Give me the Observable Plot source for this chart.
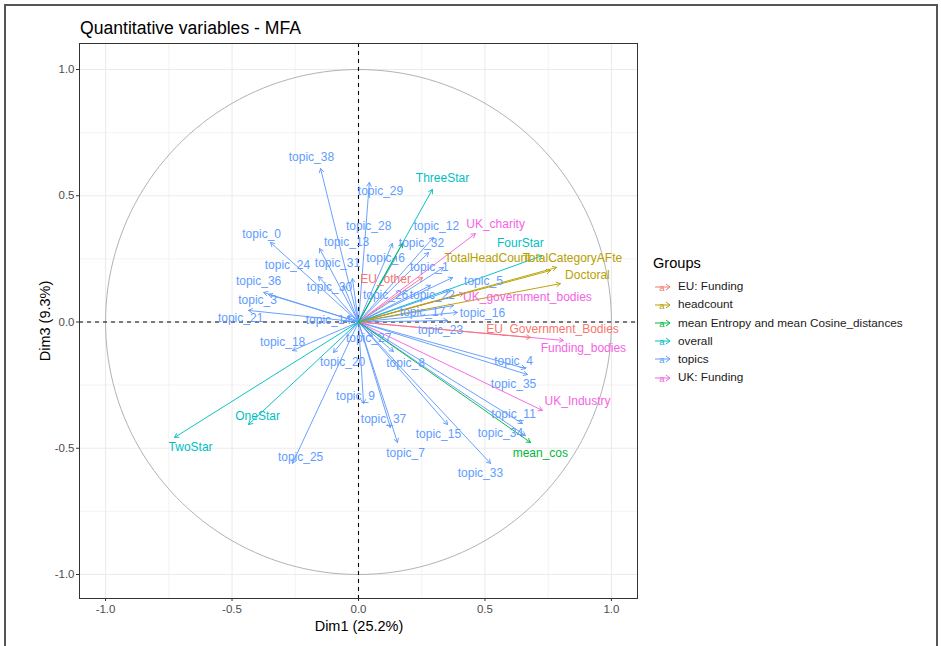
<!DOCTYPE html>
<html>
<head>
<meta charset="utf-8">
<script src="https://cdn.jsdelivr.net/npm/d3@7"></script>
<script src="https://cdn.jsdelivr.net/npm/@observablehq/plot@0.6"></script>
<style>
  html, body { margin: 0; padding: 0; background: #fff; }
  #wrap { position: relative; width: 941px; height: 646px; overflow: hidden; font-family: "Liberation Sans", Arial, sans-serif; }
  #wrap svg { position: absolute; left: 0; top: 0; }
  .abs { position: absolute; white-space: nowrap; line-height: 1; }
  #border { position: absolute; left: 4px; top: 4px; width: 934px; height: 660px; border: 2px solid #555; border-bottom: none; box-sizing: border-box; }
</style>
</head>
<body>
<div id="wrap">
  <div id="border"></div>
  <div id="chart"></div>
  <div class="abs" id="title" style="left:80px; top:20px; font-size:17.6px; color:#000;">Quantitative variables - MFA</div>
  <div class="abs" id="xtitle" style="left:359px; top:619px; font-size:14.5px; color:#000; transform:translateX(-50%);">Dim1 (25.2%)</div>
  <div class="abs" id="ytitle" style="left:45px; top:321px; font-size:14.5px; color:#000; transform:translate(-50%,-50%) rotate(-90deg);">Dim3 (9.3%)</div>
  <div id="legend"></div>
</div>
<script>
// ---- data ----
const groupNames = ["EU: Funding", "headcount", "mean Entropy and mean Cosine_distances", "overall", "topics", "UK: Funding"];
const groupColors = ["#F8766D", "#B79F00", "#00BA38", "#00BFC4", "#619CFF", "#F564E3"];

const variables = [
  "topic_38","topic_29","topic_0","topic_28","topic_12","topic_32","topic_13","topic_6","topic_31","topic_24",
  "topic_30","topic_36","topic_3","topic_21","topic_14","topic_18","topic_20","topic_27","topic_8","topic_9",
  "topic_37","topic_7","topic_25","topic_15","topic_33","topic_34","topic_11","topic_4","topic_35","topic_1",
  "topic_5","topic_26","topic_22","topic_17","topic_16","topic_23",
  "UK_charity","UK_government_bodies","Funding_bodies","UK_Industry",
  "EU_other","EU_Government_Bodies",
  "TotalHeadCount","TotalCategoryAFte","Doctoral",
  "ThreeStar","FourStar","OneStar","TwoStar",
  "mean_ent","mean_cos"
];
const variableGroup = [
  "topics","topics","topics","topics","topics","topics","topics","topics","topics","topics",
  "topics","topics","topics","topics","topics","topics","topics","topics","topics","topics",
  "topics","topics","topics","topics","topics","topics","topics","topics","topics","topics",
  "topics","topics","topics","topics","topics","topics",
  "UK: Funding","UK: Funding","UK: Funding","UK: Funding",
  "EU: Funding","EU: Funding",
  "headcount","headcount","headcount",
  "overall","overall","overall","overall",
  "mean Entropy and mean Cosine_distances","mean Entropy and mean Cosine_distances"
];
const dim1 = [
  -0.150, 0.043, -0.348, 0.134, 0.296, 0.277, -0.154, 0.150, -0.024, -0.158,
  -0.059, -0.375, -0.356, -0.435, -0.043, -0.261, -0.099, 0.055, 0.138, 0.020,
  0.126, 0.154, -0.261, 0.352, 0.522, 0.660, 0.648, 0.660, 0.668, 0.336,
  0.372, 0.285, 0.364, 0.375, 0.391, 0.352,
  0.462, 0.415, 0.810, 0.727,
  0.253, 0.680,
  0.759, 0.783, 0.798,
  0.292, 0.727, -0.435, -0.727,
  0.174, 0.680
];
const dim3 = [
  0.608, 0.553, 0.315, 0.311, 0.335, 0.275, 0.291, 0.259, 0.172, 0.180,
  0.145, 0.117, 0.109, 0.046, 0.022, -0.113, -0.121, -0.057, -0.117, -0.323,
  -0.418, -0.477, -0.560, -0.406, -0.560, -0.450, -0.402, -0.184, -0.208, 0.216,
  0.176, 0.145, 0.125, 0.065, 0.038, 0.006,
  0.350, 0.113, -0.073, -0.350,
  0.176, -0.061,
  0.204, 0.216, 0.152,
  0.525, 0.263, -0.406, -0.457,
  0.311, -0.477
];
// repelled label positions (in Dim1/Dim3 units); null = label not drawn
const labelDim1 = [
  -0.186, 0.087, -0.383, 0.040, 0.308, 0.249, -0.047, 0.107, -0.083, -0.281,
  -0.115, -0.395, -0.399, -0.466, -0.119, -0.300, -0.063, 0.040, 0.186, -0.012,
  0.099, 0.186, -0.229, 0.316, 0.482, 0.561, 0.613, 0.613, 0.613, 0.280,
  0.494, 0.107, 0.292, 0.253, 0.490, 0.324,
  0.542, 0.668, 0.889, 0.866,
  0.107, 0.767,
  0.510, 0.846, 0.905,
  0.332, 0.640, -0.399, -0.664,
  null, 0.719
];
const labelDim3 = [
  0.651, 0.517, 0.347, 0.378, 0.378, 0.311, 0.315, 0.251, 0.232, 0.224,
  0.137, 0.160, 0.085, 0.014, 0.006, -0.081, -0.160, -0.065, -0.164, -0.295,
  -0.386, -0.521, -0.537, -0.446, -0.600, -0.442, -0.366, -0.156, -0.248, 0.218,
  0.160, 0.105, 0.105, 0.038, 0.034, -0.034,
  0.386, 0.097, -0.105, -0.315,
  0.168, -0.030,
  0.251, 0.251, 0.184,
  0.568, 0.311, -0.374, -0.497,
  null, -0.521
];
const majorTicks = [-1, -0.5, 0, 0.5, 1];
const minorTicks = [-0.75, -0.25, 0.25, 0.75];

// ---- build ----
const rows = variables.map((v, i) => ({
  name: v, group: variableGroup[i], x: dim1[i], y: dim3[i], lx: labelDim1[i], ly: labelDim3[i]
}));
const labelRows = rows.filter(d => d.lx !== null);
const circle = d3.range(0, 361, 2).map(a => ({x: Math.cos(a * Math.PI / 180), y: Math.sin(a * Math.PI / 180)}));
const fmt = d => d.toFixed(1);

const chart = Plot.plot({
  width: 941,
  height: 646,
  marginLeft: 79,
  marginRight: 304,
  marginTop: 43,
  marginBottom: 48,
  x: {domain: [-1.103, 1.103]},
  y: {domain: [-1.095, 1.103]},
  color: {domain: groupNames, range: groupColors},
  style: {fontFamily: "Liberation Sans, Arial, sans-serif", fontSize: "11px", background: "transparent"},
  marks: [
    Plot.ruleX(minorTicks, {stroke: "#ebebeb", strokeWidth: 0.6}),
    Plot.ruleY(minorTicks, {stroke: "#ebebeb", strokeWidth: 0.6}),
    Plot.ruleX(majorTicks, {stroke: "#ebebeb", strokeWidth: 1.1}),
    Plot.ruleY(majorTicks, {stroke: "#ebebeb", strokeWidth: 1.1}),
    Plot.line(circle, {x: "x", y: "y", stroke: "#b3b3b3", strokeWidth: 1}),
    Plot.ruleX([0], {stroke: "#000", strokeWidth: 1.1, strokeDasharray: "4,4"}),
    Plot.ruleY([0], {stroke: "#000", strokeWidth: 1.1, strokeDasharray: "4,4"}),
    Plot.arrow(rows, {x1: () => 0, y1: () => 0, x2: "x", y2: "y", stroke: "group", strokeWidth: 0.95, headLength: 7, headAngle: 60}),
    Plot.text(labelRows, {x: "lx", y: "ly", text: "name", fill: "group", fontSize: 12}),
    Plot.frame({stroke: "#333", strokeWidth: 1}),
    Plot.axisX(majorTicks, {tickFormat: fmt, tickSize: 3, tickPadding: 3, stroke: "#333", fill: "#4d4d4d", fontSize: 11.5, label: null}),
    Plot.axisY(majorTicks, {tickFormat: fmt, tickSize: 3, tickPadding: 2, stroke: "#333", fill: "#4d4d4d", fontSize: 11.5, label: null})
  ]
});
document.getElementById("chart").appendChild(chart);

// ---- legend ----
const legend = document.getElementById("legend");
const lt = document.createElement("div");
lt.className = "abs";
lt.style.cssText = "left:653px; top:256px; font-size:14.6px; color:#000;";
lt.textContent = "Groups";
legend.appendChild(lt);
groupNames.forEach((g, i) => {
  const cy = 287 + i * 18.1;
  const svgNS = "http://www.w3.org/2000/svg";
  const s = document.createElementNS(svgNS, "svg");
  s.setAttribute("width", 20); s.setAttribute("height", 14);
  s.style.cssText = `position:absolute; left:653px; top:${cy - 7}px;`;
  s.innerHTML = `<line x1="2" y1="7" x2="17" y2="7" stroke="${groupColors[i]}" stroke-width="1"/>
    <path d="M13,4 L17,7 L13,10" fill="none" stroke="${groupColors[i]}" stroke-width="1"/>
    <text x="9" y="10.5" text-anchor="middle" font-size="9.5" fill="${groupColors[i]}" font-family="Liberation Sans, Arial, sans-serif">a</text>`;
  legend.appendChild(s);
  const t = document.createElement("div");
  t.className = "abs";
  t.style.cssText = `left:678px; top:${cy - 6.7}px; font-size:11.75px; color:#1a1a1a;`;
  t.textContent = g;
  legend.appendChild(t);
});
</script>
</body>
</html>
